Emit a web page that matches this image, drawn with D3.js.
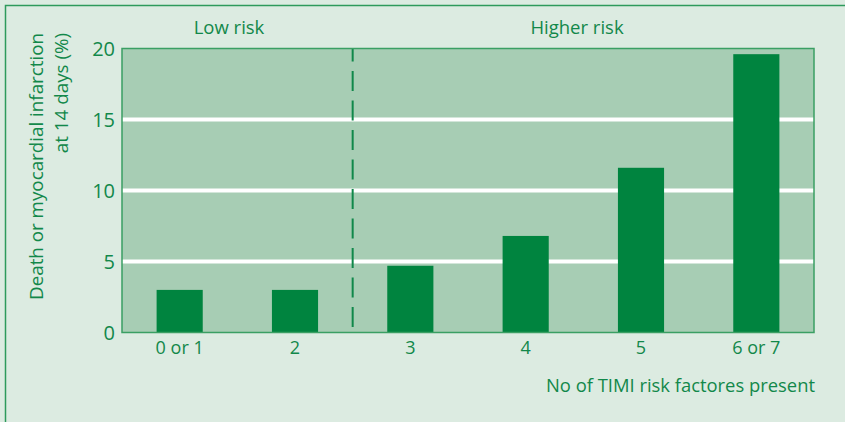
<!DOCTYPE html>
<html><head><meta charset="utf-8">
<script src="https://cdn.jsdelivr.net/npm/d3@7"></script>
<style>
html,body{margin:0;padding:0;background:#dcebe1;}
svg{display:block;}
text{font-family:"Open Sans",sans-serif;fill:#12884a;}
</style></head>
<body>
<svg id="chart" width="845" height="422"></svg>
<script>
const categories = ["0 or 1", "2", "3", "4", "5", "6 or 7"];
const values = [3.0, 3.0, 4.7, 6.8, 11.6, 19.6];
const yTicks = [0, 5, 10, 15, 20];
const groupLabels = ["Low risk", "Higher risk"];
const yTitle = ["Death or myocardial infarction", "at 14 days (%)"];
const xTitle = "No of TIMI risk factores present";

const svg = d3.select("#chart");
const W = 845, H = 422;
const m = {left:122, top:48.5, right:W-814, bottom:H-332.5};
const iw = W - m.left - m.right, ih = H - m.top - m.bottom;

svg.append("rect").attr("x",0).attr("y",0).attr("width",W).attr("height",H).attr("fill","#dcebe1");
svg.append("rect").attr("x",5.5).attr("y",5.5).attr("width",1000).attr("height",1000)
  .attr("fill","none").attr("stroke","#2e9a5c").attr("stroke-width",1.5);

const x = d3.scaleBand().domain(categories).range([0, iw]).paddingInner(0.6).paddingOuter(0.3);
const y = d3.scaleLinear().domain([0, 20]).range([ih, 0]);

const g = svg.append("g").attr("transform",`translate(${m.left},${m.top})`);

g.append("rect").attr("width",iw).attr("height",ih).attr("fill","#a7cdb4");

// gridlines
g.selectAll(".grid").data(yTicks.filter(d=>d>0 && d<20)).join("line")
  .attr("x1",0).attr("x2",iw).attr("y1",d=>y(d)).attr("y2",d=>y(d))
  .attr("stroke","#ffffff").attr("stroke-width",4);

// divider
const divX = (x(categories[1]) + x.bandwidth() + x(categories[2]))/2;
g.append("line").attr("x1",divX).attr("x2",divX).attr("y1",0).attr("y2",ih)
  .attr("stroke","#10884a").attr("stroke-width",2)
  .attr("stroke-dasharray","20 9.5").attr("stroke-dashoffset",7);

// bars
g.selectAll(".bar").data(values).join("rect")
  .attr("x",(d,i)=>x(categories[i])).attr("width",x.bandwidth())
  .attr("y",d=>y(d)).attr("height",d=>ih - y(d))
  .attr("fill","#00843f");

// frame
g.append("rect").attr("width",iw).attr("height",ih).attr("fill","none")
  .attr("stroke","#3a9f63").attr("stroke-width",1.5);

// y axis
const ya = g.append("g").call(d3.axisLeft(y).tickValues(yTicks).tickSize(0).tickPadding(7));
ya.select(".domain").remove();
ya.selectAll("text").attr("font-size",20).attr("font-family","Open Sans").attr("fill","#12884a").attr("dy","0.35em");

// x axis
const xa = g.append("g").attr("transform",`translate(0,${ih})`).call(d3.axisBottom(x).tickSize(0).tickPadding(9));
xa.select(".domain").remove();
xa.selectAll("text").attr("font-size",18).attr("font-family","Open Sans").attr("fill","#12884a");

// group labels
svg.append("text").attr("x",229).attr("y",34).attr("text-anchor","middle").attr("font-size",18.5).text(groupLabels[0]);
svg.append("text").attr("x",577).attr("y",34).attr("text-anchor","middle").attr("font-size",18.5).text(groupLabels[1]);

// x title
svg.append("text").attr("x",815).attr("y",392).attr("text-anchor","end").attr("font-size",18.4).text(xTitle);

// y title
const yt = svg.append("text").attr("transform","translate(43,33) rotate(-90)").attr("text-anchor","end").attr("font-size",18.8);
yt.append("tspan").attr("x",0).attr("y",0).text(yTitle[0]);
yt.append("tspan").attr("x",0).attr("y",25).text(yTitle[1]);
</script>
</body></html>
